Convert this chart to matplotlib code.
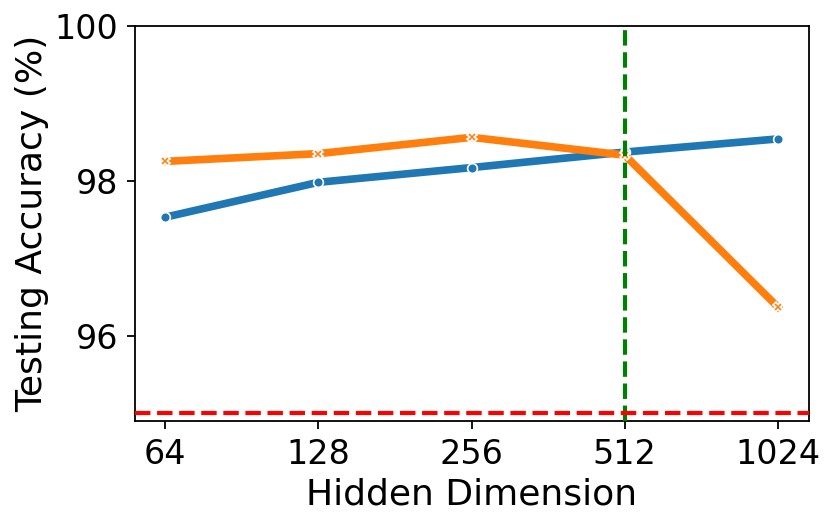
import matplotlib
matplotlib.use("Agg")
import matplotlib.pyplot as plt

categories = ["64", "128", "256", "512", "1024"]
series_a = [97.53, 97.98, 98.17, 98.37, 98.54]
series_b = [98.25, 98.35, 98.56, 98.33, 96.37]
hline_value = 95.0
vline_category = "512"

fig = plt.figure(figsize=(8.31, 5.25), dpi=100)
ax = fig.add_axes([0.162, 0.198, 0.811, 0.753])
x = list(range(len(categories)))
ax.plot(x, series_a, color="#1f77b4", lw=5.5, marker="o", ms=7,
        mec="white", mew=1.2, zorder=3)
ax.plot(x, series_b, color="#ff7f0e", lw=5.5, marker="X", ms=7,
        mec="white", mew=1.2, zorder=3)
ax.axvline(categories.index(vline_category), color="green", ls="--", lw=3, zorder=4)
ax.axhline(hline_value, color="red", ls="--", lw=3, zorder=4)
ax.set_xticks(x)
ax.set_xticklabels(categories)
ax.set_xlim(-0.2, 4.2)
ax.set_ylim(94.9, 100)
ax.set_yticks([96, 98, 100])
ax.tick_params(labelsize=24, length=6, width=1.3, pad=6)
for s in ax.spines.values():
    s.set_linewidth(1.3)
ax.set_xlabel("Hidden Dimension", fontsize=26, labelpad=5)
ax.set_ylabel("Testing Accuracy (%)", fontsize=26, labelpad=4)
fig.savefig("out.png", dpi=100)
